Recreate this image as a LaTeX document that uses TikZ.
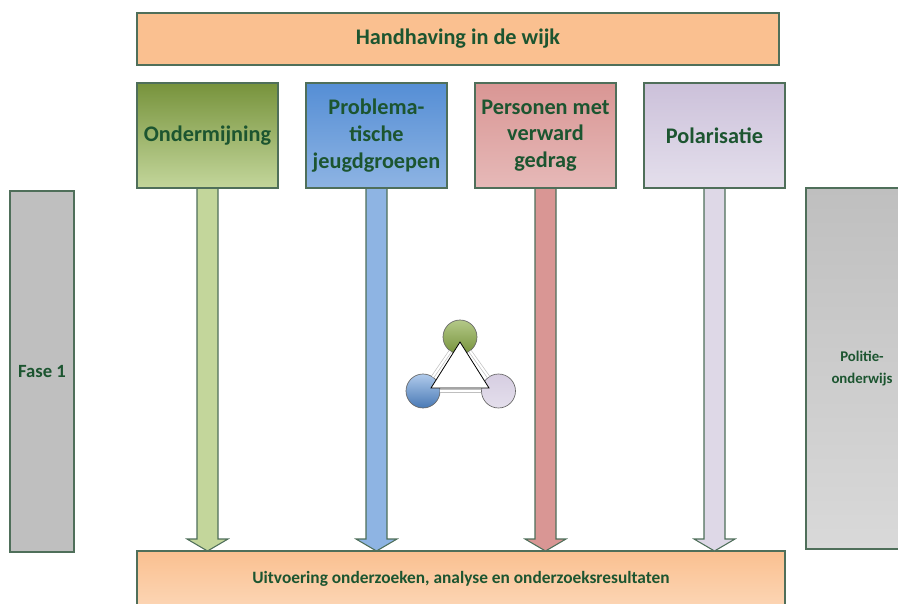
\documentclass[tikz,border=0pt]{standalone}
\usepackage{fontspec}
\setmainfont{Carlito}
\usepackage{xcolor}
\usetikzlibrary{positioning, calc, shadings}

\definecolor{txtgreen}{HTML}{1C5530}
\definecolor{edgegreen}{HTML}{4F6F5A}
\definecolor{peach}{HTML}{FAC090}
\definecolor{peachlight}{HTML}{FCD5B4}
\definecolor{olive}{HTML}{77933C}
\definecolor{olivelight}{HTML}{C3D69B}
\definecolor{skyblue}{HTML}{558ED5}
\definecolor{skybluelight}{HTML}{8EB4E3}
\definecolor{rose}{HTML}{D99694}
\definecolor{roselight}{HTML}{E6B9B8}
\definecolor{lilac}{HTML}{CCC1DA}
\definecolor{lilaclight}{HTML}{E4DFEC}
\definecolor{lilacshaft}{HTML}{DED8E7}
\definecolor{grey1}{HTML}{BFBFBF}
\definecolor{grey2}{HTML}{D9D9D9}

% block arrow from a column box down to the result box
\newcommand{\colarrow}[3]{%
\draw[arrowedge, fill=#3] ($(#1.south)+(-10.5,0)$) -- ($(#1.south |- #2.north)+(-10.5,-12)$) -- ++(-10,0) -- (#1.south |- #2.north) -- ($(#1.south |- #2.north)+(20.5,-12)$) -- ++(-10,0) -- ($(#1.south)+(10.5,0)$) -- cycle;}

\begin{document}
\begin{tikzpicture}[x=0.75pt, y=-0.75pt,
  box/.style={rectangle, draw=edgegreen, line width=0.8pt, outer sep=0pt, text=txtgreen, font=\bfseries, align=center, inner sep=2pt},
  colbox/.style={box, minimum width=105.75pt, minimum height=78.75pt, font=\fontsize{16.7}{20}\selectfont\bfseries},
  sidebox/.style={box, minimum height=270.75pt},
  arrowedge/.style={draw=edgegreen, line width=0.8pt},
  dot/.style={circle, draw=gray!80!black, line width=0.5pt, minimum size=25.5pt, inner sep=0pt}]
\useasboundingbox (0,0) rectangle (898,603);

\node[box, fill=peach, minimum width=481.5pt, minimum height=39pt, font=\fontsize{16.7}{20}\selectfont\bfseries] (wijk) at (458,39) {Handhaving in de wijk};

\node[colbox, top color=olive, bottom color=olivelight, anchor=north west] (onder) at ([yshift=-13.5pt]wijk.south west) {Ondermijning};
\node[colbox, top color=skyblue, bottom color=skybluelight, right=21pt of onder] (jeugd) {Problema-\\tische\\jeugdgroepen};
\node[colbox, top color=rose, bottom color=roselight, right=21pt of jeugd] (verward) {Personen met\\verward\\gedrag};
\node[colbox, top color=lilac, bottom color=lilaclight, right=21pt of verward] (polar) {Polarisatie};

\node[box, top color=peach, bottom color=peachlight, minimum width=486pt, minimum height=41.25pt, font=\fontsize{13}{15}\selectfont\bfseries] (result) at (461,578.5) {Uitvoering onderzoeken, analyse en onderzoeksresultaten};

\node[sidebox, fill=grey1, minimum width=48pt, font=\fontsize{14}{17}\selectfont\bfseries] (fase) at (42,371.5) {Fase 1};
\node[sidebox, top color=grey1, bottom color=grey2, minimum width=84pt, font=\fontsize{11.1}{16}\selectfont\bfseries] (school) at (862,368.5) {Politie-\\onderwijs};

% arrows
\colarrow{onder}{result}{olivelight}
\colarrow{jeugd}{result}{skybluelight}
\colarrow{verward}{result}{rose}
\colarrow{polar}{result}{lilacshaft}

% redraw box edges over the shafts
\draw[arrowedge] (onder.south west) -- (onder.south east);
\draw[arrowedge] (jeugd.south west) -- (jeugd.south east);
\draw[arrowedge] (verward.south west) -- (verward.south east);
\draw[arrowedge] (polar.south west) -- (polar.south east);

% triangle icon
\node[dot, top color=olivelight!80!olive, bottom color=olive] (c1) at (460,337) {};
\node[dot, top color=skybluelight!70!white, bottom color=skyblue!85!black] (c2) at (423,391) {};
\node[dot, top color=lilac!80!white, bottom color=lilaclight] (c3) at (498.5,391) {};
\draw[gray!50, double=white, double distance=1.5pt, line width=0.5pt] (c1) -- (c2);
\draw[gray!50, double=white, double distance=1.5pt, line width=0.5pt] (c2) -- (c3);
\draw[gray!50, double=white, double distance=1.5pt, line width=0.5pt] (c3) -- (c1);
\draw[fill=white, line width=0.6pt] ($(c1)+(0,5)$) -- ($(c2)+(8,-3)$) -- ($(c3)+(-9.5,-3)$) -- cycle;
\end{tikzpicture}
\end{document}
